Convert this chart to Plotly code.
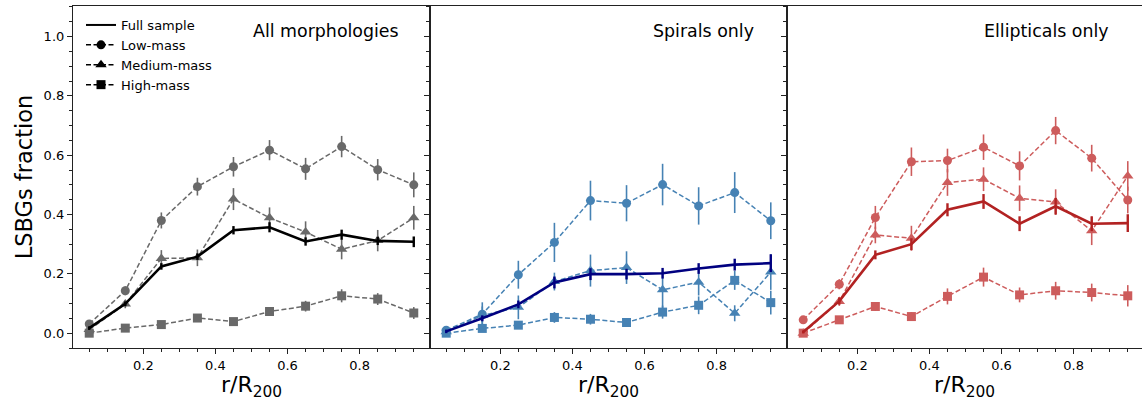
import plotly.graph_objects as go

# Radial bins (centres) in units of R200
r_bins = [0.05, 0.15, 0.25, 0.35, 0.45, 0.55, 0.65, 0.75, 0.85, 0.95]

# All morphologies
all_full = [0.017, 0.099, 0.225, 0.258, 0.347, 0.357, 0.309, 0.332, 0.311, 0.308]
all_full_err = [0.006, 0.008, 0.011, 0.011, 0.014, 0.017, 0.014, 0.017, 0.014, 0.018]
all_low = [0.031, 0.143, 0.380, 0.494, 0.561, 0.617, 0.554, 0.629, 0.551, 0.500]
all_low_err = [0.010, 0.015, 0.027, 0.030, 0.033, 0.034, 0.037, 0.036, 0.036, 0.042]
all_med = [0.012, 0.098, 0.252, 0.254, 0.452, 0.389, 0.341, 0.283, 0.312, 0.389]
all_med_err = [0.008, 0.014, 0.028, 0.028, 0.037, 0.035, 0.036, 0.034, 0.036, 0.040]
all_high = [0.000, 0.017, 0.029, 0.051, 0.039, 0.073, 0.091, 0.126, 0.115, 0.068]
all_high_err = [0.003, 0.007, 0.009, 0.012, 0.011, 0.015, 0.018, 0.022, 0.020, 0.020]

# Spirals only
sp_full = [0.006, 0.050, 0.097, 0.171, 0.199, 0.199, 0.202, 0.218, 0.231, 0.236]
sp_full_err = [0.006, 0.010, 0.013, 0.020, 0.020, 0.018, 0.018, 0.018, 0.020, 0.030]
sp_low = [0.010, 0.064, 0.197, 0.306, 0.447, 0.438, 0.501, 0.429, 0.474, 0.379]
sp_low_err = [0.010, 0.040, 0.047, 0.066, 0.067, 0.061, 0.070, 0.063, 0.069, 0.062]
sp_med = [0.005, 0.060, 0.087, 0.174, 0.211, 0.221, 0.146, 0.172, 0.067, 0.206]
sp_med_err = [0.006, 0.030, 0.040, 0.030, 0.054, 0.055, 0.065, 0.045, 0.027, 0.060]
sp_high = [0.000, 0.016, 0.027, 0.053, 0.047, 0.036, 0.071, 0.094, 0.178, 0.103]
sp_high_err = [0.004, 0.010, 0.012, 0.018, 0.018, 0.015, 0.022, 0.030, 0.032, 0.040]

# Ellipticals only
el_full = [0.004, 0.108, 0.264, 0.300, 0.416, 0.444, 0.369, 0.428, 0.369, 0.371]
el_full_err = [0.005, 0.012, 0.015, 0.020, 0.022, 0.025, 0.025, 0.028, 0.025, 0.030]
el_low = [0.045, 0.165, 0.390, 0.578, 0.582, 0.627, 0.564, 0.683, 0.590, 0.449]
el_low_err = [0.010, 0.017, 0.039, 0.048, 0.040, 0.043, 0.049, 0.046, 0.045, 0.045]
el_med = [0.000, 0.107, 0.331, 0.320, 0.508, 0.519, 0.455, 0.442, 0.345, 0.530]
el_med_err = [0.005, 0.015, 0.028, 0.042, 0.045, 0.040, 0.043, 0.043, 0.048, 0.050]
el_high = [0.000, 0.045, 0.090, 0.056, 0.124, 0.189, 0.129, 0.143, 0.137, 0.126]
el_high_err = [0.004, 0.010, 0.015, 0.015, 0.027, 0.032, 0.025, 0.030, 0.030, 0.036]

panel_titles = ["All morphologies", "Spirals only", "Ellipticals only"]
legend_names = ["Full sample", "Low-mass", "Medium-mass", "High-mass"]

FONT = "DejaVu Sans"
W, H = 1142, 401
TOP, BOTTOM = 6, 348

panels = [
    dict(full=all_full, full_err=all_full_err, low=all_low, low_err=all_low_err,
         med=all_med, med_err=all_med_err, high=all_high, high_err=all_high_err,
         main="#000000", sub="#696969"),
    dict(full=sp_full, full_err=sp_full_err, low=sp_low, low_err=sp_low_err,
         med=sp_med, med_err=sp_med_err, high=sp_high, high_err=sp_high_err,
         main="#000080", sub="#4682B4"),
    dict(full=el_full, full_err=el_full_err, low=el_low, low_err=el_low_err,
         med=el_med, med_err=el_med_err, high=el_high, high_err=el_high_err,
         main="#B22222", sub="#CD5C5C"),
]

# pixel edges of the three panels
edges = [(73, 430), (430, 787), (787, 1142)]

fig = go.Figure()

symbols = {"low": ("circle", 9), "med": ("triangle-up", 10), "high": ("square", 9)}

for i, p in enumerate(panels):
    xa = "x" if i == 0 else f"x{i+1}"
    ya = "y" if i == 0 else f"y{i+1}"
    for key in ["low", "med", "high"]:
        sym, size = symbols[key]
        fig.add_trace(go.Scatter(
            x=r_bins, y=p[key], xaxis=xa, yaxis=ya, mode="lines+markers",
            line=dict(color=p["sub"], width=1.5, dash="5px,2.5px"),
            marker=dict(symbol=sym, size=size, color=p["sub"], line=dict(width=0)),
            error_y=dict(type="data", array=p[key + "_err"], visible=True,
                         color=p["sub"], thickness=1.6, width=0),
            showlegend=False, hoverinfo="skip"))
    fig.add_trace(go.Scatter(
        x=r_bins, y=p["full"], xaxis=xa, yaxis=ya, mode="lines",
        line=dict(color=p["main"], width=2.6),
        error_y=dict(type="data", array=p["full_err"], visible=True,
                     color=p["main"], thickness=2.4, width=0),
        showlegend=False, hoverinfo="skip"))

# legend entries (black keys)
fig.add_trace(go.Scatter(x=[None], y=[None], mode="lines", name=legend_names[0],
                         line=dict(color="black", width=2)))
for name, key in zip(legend_names[1:], ["low", "med", "high"]):
    sym, size = symbols[key]
    fig.add_trace(go.Scatter(x=[None], y=[None], mode="lines+markers", name=name,
                             line=dict(color="black", width=1.5, dash="5px,2.5px"),
                             marker=dict(symbol=sym, size=size, color="black")))

plot_h = BOTTOM - TOP
layout = dict(
    width=W, height=H,
    margin=dict(l=0, r=0, t=TOP, b=H - BOTTOM, pad=0),
    paper_bgcolor="white", plot_bgcolor="white",
    font=dict(family=FONT, color="black", size=13),
    showlegend=True,
    legend=dict(x=81 / W, y=1 - 4 / plot_h, xanchor="left", yanchor="top",
                bgcolor="rgba(0,0,0,0)", font=dict(size=13, family=FONT),
                itemwidth=30, tracegroupgap=0),
)

for i, (x0, x1) in enumerate(edges):
    xk = "xaxis" if i == 0 else f"xaxis{i+1}"
    yk = "yaxis" if i == 0 else f"yaxis{i+1}"
    xr_end = 0.995 if i < 2 else 0.995 - 2 / 361
    layout[xk] = dict(
        domain=[x0 / W, x1 / W], range=[0.005, xr_end], anchor="y" if i == 0 else f"y{i+1}",
        showgrid=False, zeroline=False, showline=True, mirror=True,
        linecolor="#222", linewidth=1.2,
        ticks="outside", ticklen=5, tickwidth=1.1, tickcolor="#222",
        tick0=0, dtick=0.2, tickformat=".1f",
        minor=dict(ticks="outside", ticklen=3, tickwidth=1, tickcolor="#222",
                   tick0=0, dtick=0.05),
        tickfont=dict(size=13, family=FONT),
        title=dict(text="r/R<sub>200</sub>", font=dict(size=22, family=FONT), standoff=6),
    )
    layout[yk] = dict(
        domain=[0, 1], range=[-0.05, 1.103], anchor="x" if i == 0 else f"x{i+1}",
        showgrid=False, zeroline=False, showline=True, mirror=(i < 2),
        linecolor="#222", linewidth=1.2,
        ticks="outside", ticklen=5, tickwidth=1.1, tickcolor="#222",
        tick0=0, dtick=0.2, tickformat=".1f",
        minor=dict(ticks="outside", ticklen=3, tickwidth=1, tickcolor="#222",
                   tick0=0, dtick=0.05),
        tickfont=dict(size=13, family=FONT),
        showticklabels=(i == 0),
    )
    if i > 0:
        layout[yk]["matches"] = "y"

layout["yaxis"]["title"] = dict(text="LSBGs fraction", font=dict(size=22.5, family=FONT), standoff=4)

fig.update_layout(**layout)

# panel labels in the upper-right corner
title_x = [0.918, 0.912, 0.912]
for i, t in enumerate(panel_titles):
    xr = "x domain" if i == 0 else f"x{i+1} domain"
    yr = "y domain" if i == 0 else f"y{i+1} domain"
    fig.add_annotation(text=t, xref=xr, yref=yr, x=title_x[i], y=1 - 25 / plot_h,
                       xanchor="right", yanchor="middle", showarrow=False,
                       font=dict(size=17.4, family=FONT, color="black"))

fig.write_html("out.html")
